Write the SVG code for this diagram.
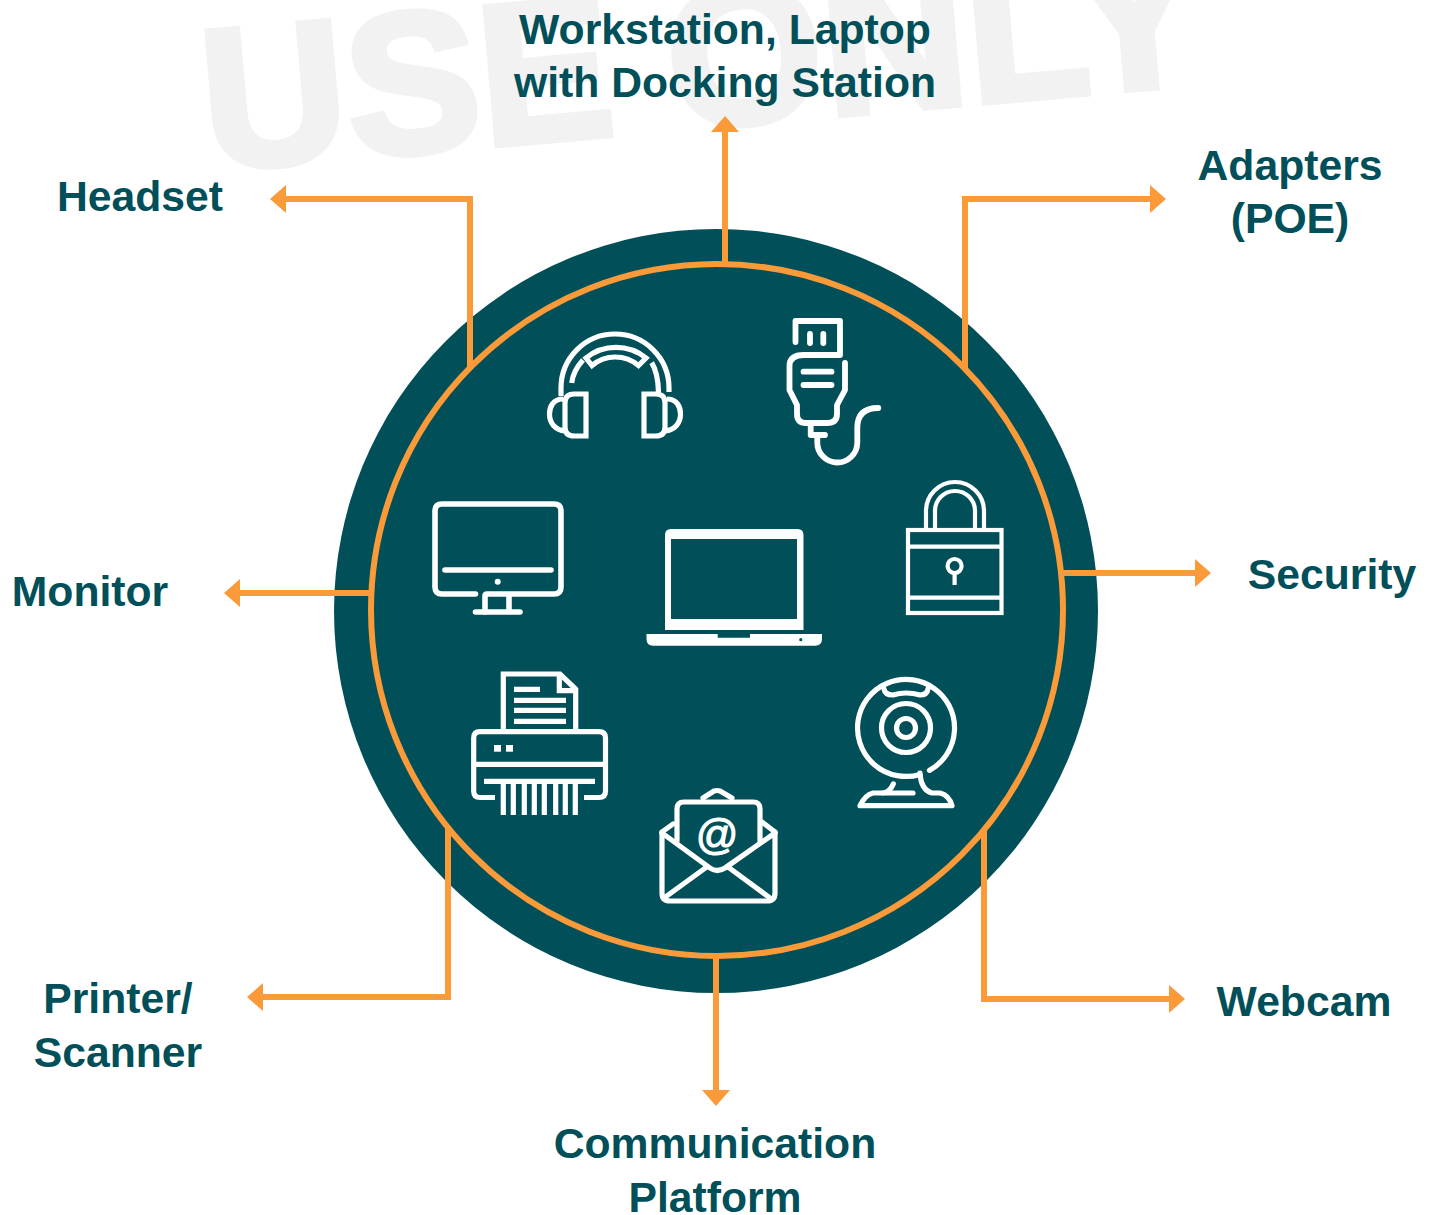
<svg xmlns="http://www.w3.org/2000/svg" width="1434" height="1215" viewBox="0 0 1434 1215">
<style>
.lbl{font-family:"Liberation Sans",Arial,sans-serif;font-weight:700;font-size:42.7px;fill:#004f59;text-anchor:middle}
.wm{font-family:"Liberation Sans",Arial,sans-serif;font-weight:700;font-size:200px;fill:#f2f2f2;stroke:#f2f2f2;stroke-width:7}
.i{fill:none;stroke:#fff;stroke-width:5.2;stroke-linecap:round;stroke-linejoin:round}
.b{stroke-linecap:butt;stroke-linejoin:miter}
.c{fill:none;stroke:#fa9a38;stroke-width:6;stroke-linejoin:miter}
.w{fill:#fff}
</style>
<defs>
<marker id="ah" markerUnits="userSpaceOnUse" viewBox="0 0 16 28" refX="0" refY="14" markerWidth="16" markerHeight="28" orient="auto"><path d="M0 0L16 14L0 28Z" fill="#fa9a38"/></marker>
</defs>
<rect width="1434" height="1215" fill="#fff"/>
<text class="wm" transform="translate(208 170) rotate(-5)">USE ONLY</text>
<g id="hub">
<circle cx="716" cy="611" r="382" fill="#004f59"/>
<circle cx="717" cy="610" r="346" fill="none" stroke="#fa9a38" stroke-width="6"/>
</g>
<g id="connectors">
<path class="c" marker-end="url(#ah)" d="M725 264V132"/>
<path class="c" marker-end="url(#ah)" d="M470 368V199H286"/>
<path class="c" marker-end="url(#ah)" d="M965 368V199H1150"/>
<path class="c" marker-end="url(#ah)" d="M372 593H240"/>
<path class="c" marker-end="url(#ah)" d="M1063 573H1195"/>
<path class="c" marker-end="url(#ah)" d="M984 830V999H1169"/>
<path class="c" marker-end="url(#ah)" d="M448 826V997H263"/>
<path class="c" marker-end="url(#ah)" d="M716 955V1090"/>
</g>
<g id="node-workstation">
<path class="w" fill-rule="evenodd" d="M665 630V535Q665 529 671 529H797.500Q803.500 529 803.500 535V630ZM671 539V619H797V539Z"/>
<path class="w" d="M646.500 634H717.700V637.700H750V634H822V639Q822 645.700 815 645.700H653Q646.500 645.700 646.500 639Z"/>
<circle cx="800.800" cy="639.700" r="1.600" fill="#004f59"/>
<text class="lbl" x="725" y="44">Workstation, Laptop</text>
<text class="lbl" x="725" y="97">with Docking Station</text>
</g>
<g id="node-headset">
<g class="i b">
<path d="M561 396V388A54 54 0 0 1 669 388V392"/>
<path d="M571.700 383Q573 371 583 360"/>
<path d="M651.700 362.700Q658 373 658.500 392"/>
<path d="M586 358A48 48 0 0 1 646 358L638.500 365.500A36 36 0 0 0 592 365.500Z"/>
<path d="M586 394H574Q565 394 565 403V427Q565 436 574 436H586Z"/>
<path d="M644 394H656Q665 394 665 403V427Q665 436 656 436H644Z"/>
<path d="M563 399C553 399 549.500 407 549.500 414C549.500 423 555 430 565 431"/>
<path d="M667 399C677 399 680.500 407 680.500 414C680.500 423 675 430 665 431"/>
</g>
<text class="lbl" x="140" y="211">Headset</text>
</g>
<g id="node-adapters">
<g class="i" style="stroke-width:5.8">
<path d="M795.500 342V321H840V355H804Q789.500 355 789.500 366V390L797 405V414Q797 423 806 423H827Q837 423 837 414V405L845 390V363"/>
<path d="M810 334V343M823.300 334V343M803.500 371.700H831.500M803.500 385H831.500"/>
<path d="M810.700 424V435H825"/>
<path d="M817.300 437V442A20 20 0 0 0 857.300 443V428Q857.300 408 878.300 408"/>
</g>
<text class="lbl" x="1290" y="180">Adapters</text>
<text class="lbl" x="1290" y="233">(POE)</text>
</g>
<g id="node-monitor">
<g class="i" style="stroke-width:5.6">
<path d="M475.500 594H442Q435 594 435 587V511Q435 504 442 504H554Q561 504 561 511V587Q561 594 554 594H487Q485 594 485 596V612"/>
<path d="M509 595V612M475.500 612H520M445 570H551"/>
</g>
<circle class="w" cx="497.700" cy="581.700" r="3"/>
<text class="lbl" x="90" y="606">Monitor</text>
</g>
<g id="node-security">
<g class="i b" style="stroke-width:4.2">
<rect x="908" y="530" width="93.500" height="83"/>
<path d="M908 546.700H1001M908 597.700H1001"/>
<path d="M926 530V511A29 29 0 0 1 984 511V530"/>
<path d="M935 530V511A20 20 0 0 1 975 511V530"/>
<circle cx="954.600" cy="566" r="7"/>
<path d="M954.600 573V585"/>
</g>
<text class="lbl" x="1332" y="589">Security</text>
</g>
<g id="node-webcam">
<g class="i">
<path d="M920 774.400A48.500 48.500 0 1 1 929.500 770.400"/>
<circle cx="906" cy="728" r="24.500"/>
<circle cx="906" cy="728" r="9.500"/>
<path d="M884 689Q885 695 893 695Q906 691 920 695Q927 695 928 689"/>
<path d="M920 773Q921 790 932 793H940Q949 795 952 805.700H860Q865 795 873 793H913"/>
<path d="M893.300 784Q890 792 883 793"/>
</g>
<text class="lbl" x="1304" y="1016">Webcam</text>
</g>
<g id="node-communication">
<g class="i">
<path d="M662 832V893Q662 901 670 901H767Q775 901 775 893V832"/>
<path d="M662 832L673 824M775 832L762 822"/>
<path d="M662 833L710 868Q717 873 725 868L775 833"/>
<path d="M677 841V809Q677 802 684 802H753Q760 802 760 809V841"/>
<path d="M703 798L714 791Q717 790 720 791L732 798"/>
<path d="M706.700 867L664 898M728 867L770 898"/>
</g>
<text x="717" y="849" font-family="'Liberation Sans',Arial,sans-serif" font-size="42" fill="#fff" stroke="#fff" stroke-width="1.1" text-anchor="middle">@</text>
<text class="lbl" x="715" y="1158">Communication</text>
<text class="lbl" x="715" y="1212">Platform</text>
</g>
<g id="node-printer">
<g class="i b">
<path d="M503.300 731V674H560L575.700 689V731"/>
<path d="M559.300 674V690.700H575.700"/>
<path d="M514 689.300H540M514 700.300H566M514 710.300H566M514 721.300H566"/>
<path d="M484 781.300H595"/>
<path d="M473.700 764.300H605.500"/>
<path d="M503.300 781V815M513.300 781V815M524.300 781V815M534.300 781V815M544.300 781V815M555.700 781V815M565.300 781V815M575.300 781V815"/>
<path d="M495 797.500H480Q473.700 797.500 473.700 791V738Q473.700 731.700 480 731.700H599Q605.500 731.700 605.500 738V791Q605.500 797.500 599 797.500H584"/>
</g>
<rect class="w" x="494" y="745" width="7" height="6.700"/>
<rect class="w" x="506" y="745" width="7" height="6.700"/>
<text class="lbl" x="118" y="1013">Printer/</text>
<text class="lbl" x="118" y="1067">Scanner</text>
</g>
</svg>
